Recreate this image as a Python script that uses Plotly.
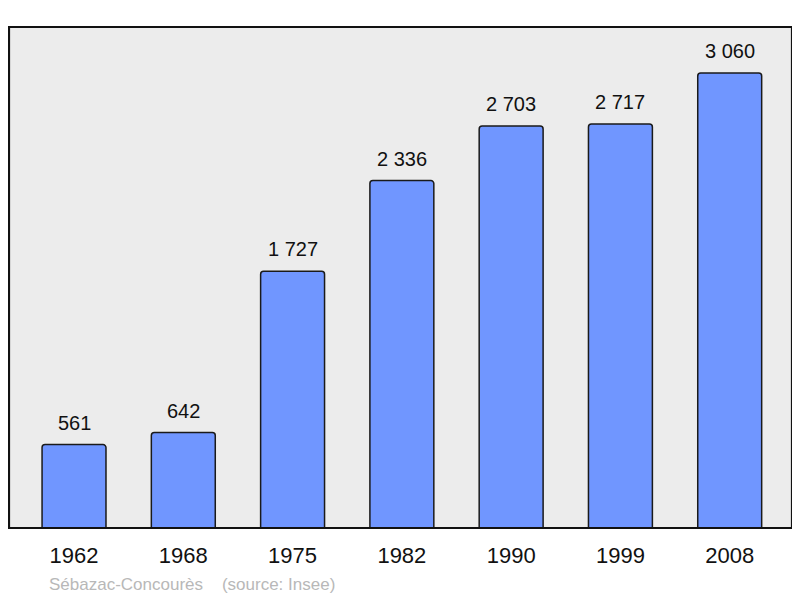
import plotly.graph_objects as go

years = ["1962", "1968", "1975", "1982", "1990", "1999", "2008"]
population = [561, 642, 1727, 2336, 2703, 2717, 3060]

def fmt(v):
    return f"{v:,}".replace(",", " ")

fig = go.Figure()
fig.add_trace(go.Bar(
    x=years, y=population,
    width=0.585,
    marker=dict(color="#7096ff", line=dict(color="#1a1a1a", width=1.5), cornerradius=3),
    hoverinfo="skip",
))
for i, v in enumerate(population):
    fig.add_annotation(x=i, y=v, text=fmt(v), showarrow=False, yanchor="middle",
                       yshift=22, font=dict(size=20, color="#111111"))

fig.add_annotation(xref="paper", yref="paper", x=(47-9)/783, y=-(584-528)/501,
                   xanchor="left", yanchor="middle", showarrow=False,
                   text="Sébazac-Concourès    (source: Insee)",
                   font=dict(size=17, color="#b8b8b8"))

fig.add_shape(type="rect", xref="paper", yref="paper", x0=0, x1=1, y0=0, y1=1,
              line=dict(color="#111111", width=2.2), layer="above")

# page body has an 8px margin: compensate so the plot area lands at x 9..792, y 27..528
fig.update_layout(
    width=800, height=598,
    margin=dict(l=1, r=16, t=19, b=78),
    plot_bgcolor="#ececec", paper_bgcolor="#ffffff",
    font=dict(family="Liberation Sans, Arial, sans-serif"),
    showlegend=False,
    xaxis=dict(type="category", range=[-0.595, 6.57], showgrid=False, zeroline=False,
               showline=False, tickfont=dict(size=22, color="#111111"), ticks="",
               ticklabelstandoff=12),
    yaxis=dict(range=[0, 3369], showgrid=False, zeroline=False, showticklabels=False, ticks=""),
)
fig.write_html("out.html")
